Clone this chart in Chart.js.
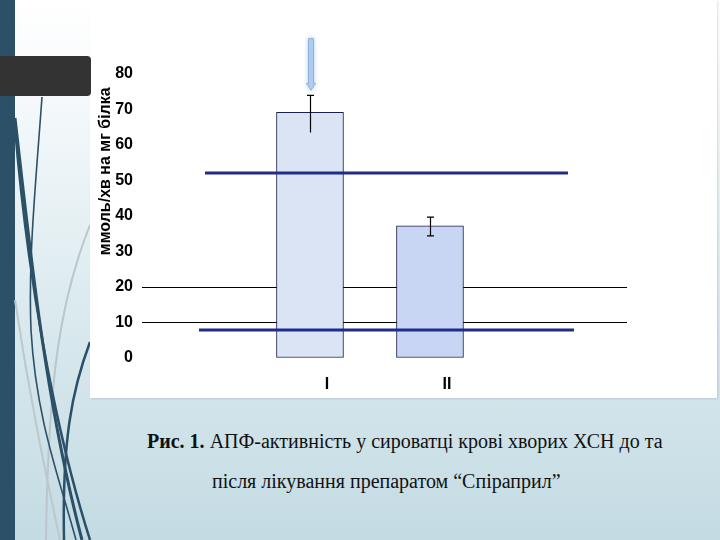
<!DOCTYPE html>
<html lang="uk">
<head>
<meta charset="utf-8">
<title>АПФ-активність</title>
<script src="https://cdn.jsdelivr.net/npm/chart.js@4.4.1/dist/chart.umd.min.js"></script>
<style>
  html, body { margin: 0; padding: 0; }
  body {
    width: 720px; height: 540px; position: relative; overflow: hidden;
    background: linear-gradient(to bottom, #ffffff 0%, #f7fafc 15%, #d9e9ee 60%, #c4dbe3 100%);
    font-family: "Liberation Serif", serif;
  }
  .stripe { position: absolute; left: 0; top: 0; width: 15px; height: 540px; background: #2c5067; }
  .deco { position: absolute; left: 0; top: 0; }
  .panel {
    position: absolute; left: 90px; top: 0; width: 627px; height: 398px;
    background: #fff; box-shadow: 1px 1px 2px rgba(0,0,0,0.12);
  }
  .tab {
    position: absolute; left: 0; top: 56px; width: 91px; height: 40px;
    background: #333333; border-radius: 0 4px 4px 0;
  }
  .caption { position: absolute; font-size: 20px; color: #111; white-space: nowrap; }
  .l1 { left: 147px; top: 430px; }
  .l2 { left: 212px; top: 470px; }
</style>
</head>
<body>
<div class="stripe"></div>
<svg class="deco" width="720" height="540">
  <path d="M90 225 C60 300 48 380 46 540" stroke="#b9c6cb" stroke-width="2" fill="none"/>
  <path d="M15 300 C30 400 45 470 60 540" stroke="#bcc8cc" stroke-width="2" fill="none"/>
  <path d="M42 97 C36 180 28 260 31 330 C36 420 60 480 76 540" stroke="#2c5067" stroke-width="1.6" fill="none"/>
  <path d="M15 118 C30 250 45 400 82 540" stroke="#2c5067" stroke-width="3" fill="none"/>
  <path d="M15 128 C27 270 52 420 90 540" stroke="#2c5067" stroke-width="2.5" fill="none"/>
  <path d="M90 342 C72 390 62 440 64 540" stroke="#2c5067" stroke-width="2.5" fill="none"/>
</svg>
<div class="panel"><canvas id="acfChart" width="627" height="398"></canvas></div>
<div class="tab"></div>
<div class="caption l1"><b>Рис. 1.</b> АПФ-активність у сироватці крові хворих ХСН до та</div>
<div class="caption l2">після лікування препаратом “Спіраприл”</div>

<script>
const categories = ['I', 'II'];
const meanValues = [69.2, 37.2];
const errorPlus = [4.8, 2.5];
const errorMinus = [5.7, 2.8];
const lowerCaps = [false, true];
const gridValues = [10, 20];
const upperLineY = [52.1, 52.1];
const upperLineX = [0.125, 3.15];
const lowerLineY = [7.9, 7.9];
const lowerLineX = [0.075, 3.2];
const arrowSpan = [90, 75.4];
const yTitle = 'ммоль/хв на мг білка';

const FONT = 'Liberation Sans, Arial, sans-serif';

const errorBarPlugin = {
  id: 'errorBars',
  afterDatasetsDraw(chart){
    const { ctx, scales: { x, y } } = chart;
    ctx.save();
    ctx.strokeStyle = '#000';
    ctx.lineWidth = 1.2;
    categories.forEach((c, i) => {
      const px = Math.round(x.getPixelForValue(i + 1)) + 0.5;
      const top = y.getPixelForValue(meanValues[i] + errorPlus[i]);
      const bot = y.getPixelForValue(meanValues[i] - errorMinus[i]);
      ctx.beginPath();
      ctx.moveTo(px, top); ctx.lineTo(px, bot);
      ctx.moveTo(px - 3.5, top); ctx.lineTo(px + 3.5, top);
      if (lowerCaps[i]) { ctx.moveTo(px - 3.5, bot); ctx.lineTo(px + 3.5, bot); }
      ctx.stroke();
    });

    // arrow pointing to the first bar
    const ax = x.getPixelForValue(1) + 1;
    const aTop = y.getPixelForValue(arrowSpan[0]);
    const aTip = y.getPixelForValue(arrowSpan[1]);
    ctx.shadowColor = 'rgba(140,185,230,0.6)';
    ctx.shadowBlur = 4;
    ctx.fillStyle = '#b5d0ee';
    ctx.strokeStyle = '#8fb1d9';
    ctx.lineWidth = 1;
    ctx.beginPath();
    ctx.moveTo(ax - 2.5, aTop);
    ctx.lineTo(ax + 2.5, aTop);
    ctx.lineTo(ax + 2.5, aTip - 7);
    ctx.lineTo(ax + 4.5, aTip - 7);
    ctx.lineTo(ax, aTip);
    ctx.lineTo(ax - 4.5, aTip - 7);
    ctx.lineTo(ax - 2.5, aTip - 7);
    ctx.closePath();
    ctx.fill();
    ctx.stroke();
    ctx.restore();
  }
};

function refLine(xs, ys){
  return {
    type: 'line',
    data: xs.map((v, i) => ({ x: v, y: ys[i] })),
    borderColor: '#1f2c8c',
    borderWidth: 3,
    pointRadius: 0,
    fill: false,
    order: 0
  };
}

function renderChart(){
  const ctx = document.getElementById('acfChart');
  new Chart(ctx, {
    type: 'bar',
    data: {
      datasets: [
        refLine(upperLineX, upperLineY),
        refLine(lowerLineX, lowerLineY),
        {
          type: 'bar',
          data: categories.map((c, i) => ({ x: i + 1, y: meanValues[i] })),
          backgroundColor: ['#dae4f5', '#c8d6f3'],
          borderColor: '#1c1f4e',
          borderWidth: 1,
          borderSkipped: false,
          barThickness: 67,
          order: 1
        }
      ]
    },
    options: {
      responsive: false,
      animation: false,
      layout: { padding: { top: 74, right: 90, bottom: 0, left: 0 } },
      plugins: { legend: { display: false }, tooltip: { enabled: false } },
      scales: {
        x: {
          type: 'linear',
          offset: false,
          min: -0.4,
          max: 3.642,
          afterFit(scale){ scale.height = 40; },
          grid: { display: false },
          border: { display: false },
          ticks: {
            stepSize: 1,
            autoSkip: false,
            labelOffset: 17,
            padding: 9,
            color: '#000',
            font: { family: FONT, size: 16, weight: 'bold' },
            callback: v => (Number.isInteger(v) && categories[v - 1]) ? categories[v - 1] : ''
          }
        },
        y: {
          min: 0,
          max: 80,
          afterFit(scale){ scale.width = 52; },
          border: { display: false },
          grid: {
            drawTicks: false,
            lineWidth: 1,
            color: c => gridValues.includes(c.tick.value) ? '#000' : 'rgba(0,0,0,0)'
          },
          ticks: {
            stepSize: 10,
            padding: 9,
            color: '#000',
            font: { family: FONT, size: 16, weight: 'bold' }
          },
          title: {
            display: true,
            text: yTitle + '   ',
            align: 'end',
            color: '#000',
            padding: { top: 6, bottom: 0 },
            font: { family: FONT, size: 16, weight: 'bold' }
          }
        }
      }
    },
    plugins: [errorBarPlugin]
  });
}

document.addEventListener('DOMContentLoaded', renderChart);
</script>
</body>
</html>
